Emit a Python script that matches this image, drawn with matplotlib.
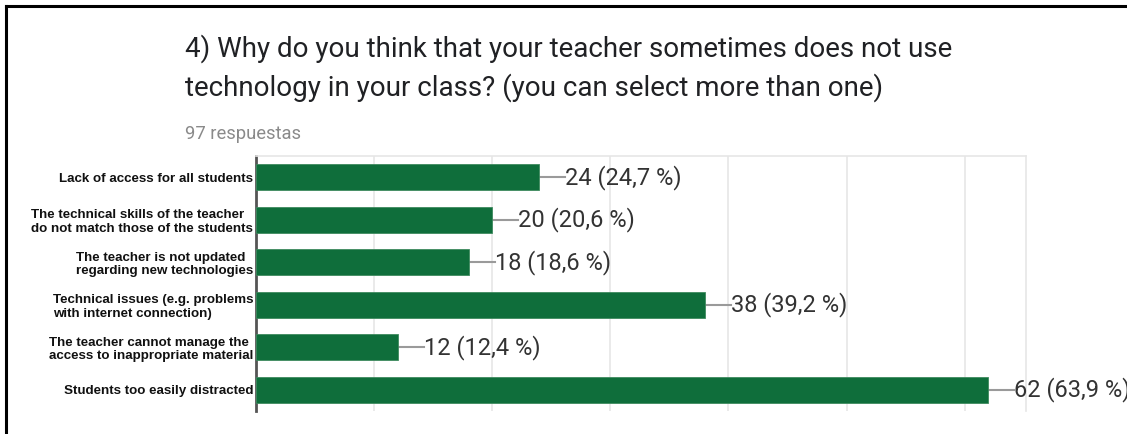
import matplotlib.pyplot as plt
from matplotlib.lines import Line2D

categories = [
    "Lack of access for all students",
    "The technical skills of the teacher\ndo not match those of the students",
    "The teacher is not updated\nregarding new technologies",
    "Technical issues (e.g. problems\nwith internet connection)",
    "The teacher cannot manage the\naccess to inappropriate material",
    "Students too easily distracted",
]
counts = [24, 20, 18, 38, 12, 62]
percents = ["24,7", "20,6", "18,6", "39,2", "12,4", "63,9"]
title_lines = [
    "4) Why do you think that your teacher sometimes does not use",
    "technology in your class? (you can select more than one)",
]

fig = plt.figure(figsize=(11.27, 4.34), dpi=100)
ax = fig.add_axes([0.2272, 0.053, 0.6832, 0.5876])

green = "#0f6e3b"
ypos = list(range(len(categories)))
ax.barh(ypos, counts, height=0.62, color=green, edgecolor="#3f8a5f", linewidth=0.6, zorder=3)

ax.set_ylim(len(categories) - 0.5, -0.5)
ax.set_xlim(0, 65.2)
ax.set_xticks(range(0, 70, 10))
ax.set_xticklabels([])
ax.tick_params(axis="x", length=0)
ax.grid(axis="x", color="#e6e6e6", linewidth=1.2, zorder=0)

ax.set_yticks(ypos)
ax.set_yticklabels(categories, fontsize=9.6, fontweight="bold", color="#111111",
                   family="Liberation Sans", multialignment="left", linespacing=1.15)
ax.tick_params(axis="y", length=0, pad=2)

for s in ["top", "right"]:
    ax.spines[s].set_color("#e6e6e6")
    ax.spines[s].set_linewidth(1.2)
ax.spines["bottom"].set_visible(False)
ax.spines["left"].set_color("#555555")
ax.spines["left"].set_linewidth(2)

for y, c, p in zip(ypos, counts, percents):
    ax.plot([c, c + 2.2], [y, y], color="#9a9a9a", linewidth=1.5, zorder=2, clip_on=False)
    ax.text(c + 2.2, y, f"{c} ({p} %)", va="center", ha="left", fontsize=17,
            family="Roboto", color="#333333", clip_on=False)

for line, base in zip(title_lines, [57, 96]):
    fig.text(185 / 1127, 1 - base / 434, line, ha="left", va="baseline",
             fontsize=20, family="Roboto", color="#202124")
fig.text(185 / 1127, 1 - 139 / 434, "97 respuestas", ha="left", va="baseline",
         fontsize=13.2, family="Roboto", color="#8a8a8a")

# black frame of the screenshot
fig.add_artist(Line2D([6 / 1127, 1], [1 - 6 / 434, 1 - 6 / 434], color="black", linewidth=2.2))
fig.add_artist(Line2D([6 / 1127, 6 / 1127], [0, 1 - 6 / 434], color="black", linewidth=2.2))

fig.savefig("out.png", dpi=100)
